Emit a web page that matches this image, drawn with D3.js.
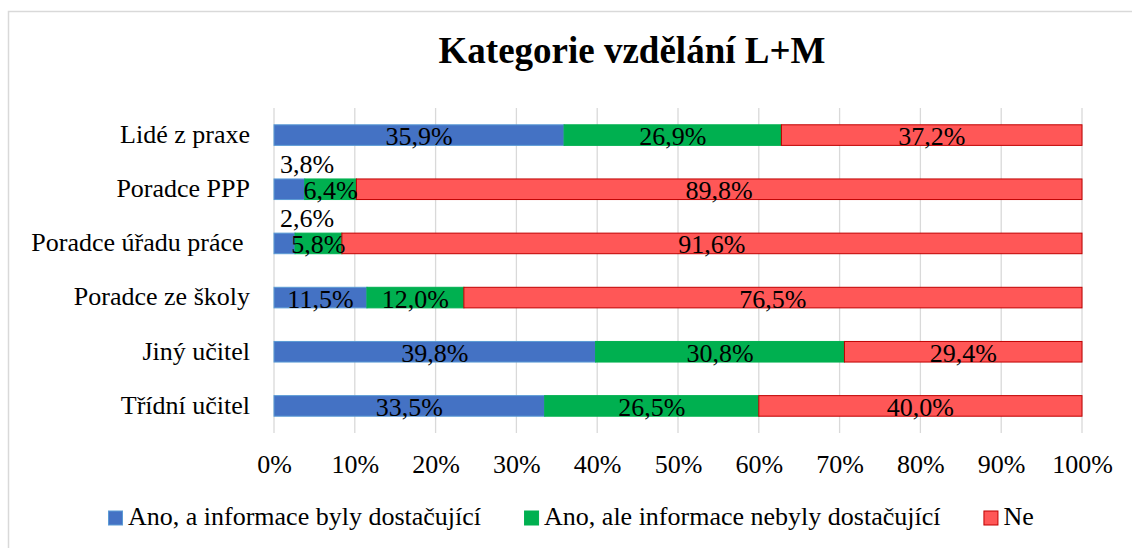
<!DOCTYPE html>
<html>
<head>
<meta charset="utf-8">
<script src="https://cdn.jsdelivr.net/npm/d3@7"></script>
<style>
    body { margin: 0; background: #fff; }
    svg text { font-family: 'Liberation Serif', Tinos, 'Times New Roman', 'DejaVu Serif', serif; fill: #000; }
</style>
</head>
<body>
<div id="chart"></div>
<script>
'use strict';

const title = 'Kategorie vzdělání L+M';
const categories = ['Lidé z praxe', 'Poradce PPP', 'Poradce úřadu práce ', 'Poradce ze školy', 'Jiný učitel', 'Třídní učitel'];
const seriesNames = ['Ano, a informace byly dostačující', 'Ano, ale informace nebyly dostačující', 'Ne'];
const anoDostacujici = [35.9, 3.8, 2.6, 11.5, 39.8, 33.5];
const anoNedostacujici = [26.9, 6.4, 5.8, 12.0, 30.8, 26.5];
const ne = [37.2, 89.8, 91.6, 76.5, 29.4, 40.0];
const xTicks = [0, 10, 20, 30, 40, 50, 60, 70, 80, 90, 100];

const fills = ['#4472C4', '#00B050', '#FF5757'];
const strokes = ['#5B9BD5', '#00B050', '#C00000'];
const serif = "'Liberation Serif', Tinos, 'Times New Roman', 'DejaVu Serif', serif";

const width = 1132, height = 548;
const margin = {left: 274, right: 50, top: 108, bottom: 115};

const svg = d3.select('#chart')
    .append('svg')
    .attr('width', width)
    .attr('height', height)
    .attr('font-family', serif);

// chart frame (runs off the picture right and bottom)
svg.append('rect')
    .attr('x', 8.5)
    .attr('y', 11.5)
    .attr('width', 1300)
    .attr('height', 700)
    .attr('fill', 'none')
    .attr('stroke', '#D9D9D9')
    .attr('stroke-width', 1.5);

svg.append('text')
    .attr('x', 632)
    .attr('y', 63)
    .attr('text-anchor', 'middle')
    .attr('font-family', serif)
    .style('font-size', '37px')
    .style('font-weight', 'bold')
    .text(title);

const x = d3.scaleLinear()
    .domain([0, 100])
    .range([margin.left, width - margin.right]);

const y = d3.scaleBand()
    .domain(categories)
    .range([margin.top, height - margin.bottom])
    .paddingInner(0.62)
    .paddingOuter(0.31);

// gridlines
svg.append('g')
    .selectAll('line')
    .data(xTicks)
    .enter()
    .append('line')
    .attr('x1', d => x(d))
    .attr('x2', d => x(d))
    .attr('y1', margin.top)
    .attr('y2', height - margin.bottom)
    .attr('stroke', '#D9D9D9')
    .attr('stroke-width', 1.3);

const rows = categories.map((c, i) => ({
    cat: c,
    values: [anoDostacujici[i], anoNedostacujici[i], ne[i]]
}));

const stack = d3.stack()
    .keys([0, 1, 2])
    .value((d, k) => d.values[k]);
const layers = stack(rows);

const fmt = v => d3.format('.1f')(v).replace('.', ',') + '%';

const layer = svg.append('g')
    .selectAll('g')
    .data(layers)
    .enter()
    .append('g')
    .attr('fill', d => fills[d.key])
    .attr('stroke', d => strokes[d.key])
    .attr('stroke-width', 1);

layer.selectAll('rect')
    .data(d => d)
    .enter()
    .append('rect')
    .attr('x', d => x(d[0]))
    .attr('y', d => y(d.data.cat))
    .attr('width', d => x(d[1]) - x(d[0]))
    .attr('height', y.bandwidth());

// data labels
const labels = svg.append('g');
layers.forEach(l => {
    l.forEach(d => {
        const v = d[1] - d[0];
        const small = v < 5;
        labels.append('text')
            .attr('x', small ? x(d[0]) + 6 : (x(d[0]) + x(d[1])) / 2)
            .attr('y', small ? y(d.data.cat) - 6 : y(d.data.cat) + y.bandwidth() / 2 + 10)
            .attr('text-anchor', small ? 'start' : 'middle')
            .attr('font-family', serif)
            .style('font-size', '26px')
            .text(fmt(v));
    });
});

// category axis
const yAxis = svg.append('g')
    .attr('transform', `translate(${margin.left},0)`)
    .call(d3.axisLeft(y).tickSize(0).tickPadding(24));
yAxis.attr('font-family', serif).attr('font-size', 26);
yAxis.select('.domain').remove();
yAxis.selectAll('text')
    .attr('fill', '#000')
    .style('white-space', 'pre')
    .attr('dy', '0.3em');

// value axis
const xAxis = svg.append('g')
    .attr('transform', `translate(0,${height - margin.bottom})`)
    .call(d3.axisBottom(x).tickValues(xTicks).tickSize(0).tickPadding(22).tickFormat(d => d + '%'));
xAxis.attr('font-family', serif).attr('font-size', 26);
xAxis.select('.domain').remove();
xAxis.selectAll('text').attr('fill', '#000');

// legend
const legend = svg.append('g')
    .attr('transform', 'translate(108,525)');
let lx = 0;
seriesNames.forEach((name, i) => {
    const item = legend.append('g').attr('transform', `translate(${lx},0)`);
    item.append('rect')
        .attr('x', 0.5)
        .attr('y', -14)
        .attr('width', 14)
        .attr('height', 14)
        .attr('fill', fills[i])
        .attr('stroke', strokes[i])
        .attr('stroke-width', 1);
    const t = item.append('text')
        .attr('x', 20)
        .attr('y', 0)
        .attr('font-family', serif)
        .style('font-size', '26px')
        .text(name);
    lx += 20 + t.node().getComputedTextLength() + 43;
});
</script>
</body>
</html>
